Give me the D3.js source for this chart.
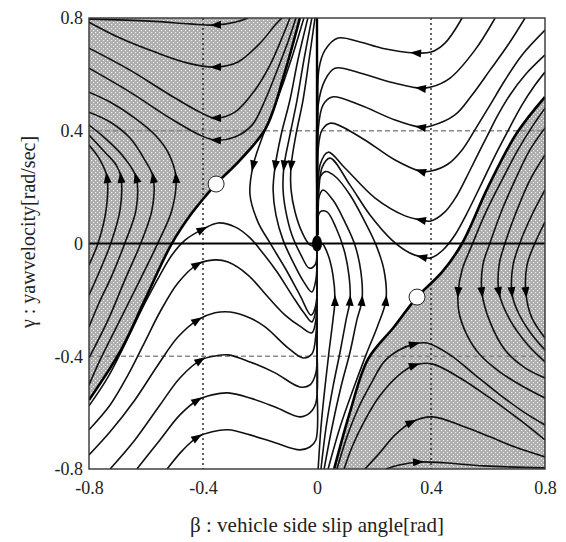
<!DOCTYPE html>
<html>
<head>
<meta charset="utf-8">
<script src="https://cdn.jsdelivr.net/npm/d3@7"></script>
<style>
body { margin: 0; background: #fff; }
svg text { font-family: "Liberation Serif", "DejaVu Serif", serif; fill: #222; }
</style>
</head>
<body>
<div id="chart"></div>
<script>

// axis ticks and guide lines
var xTicks = [-0.8, -0.4, 0, 0.4, 0.8];
var yTicks = [-0.8, -0.4, 0, 0.4, 0.8];
var guideX = [-0.4, 0.4];
var guideY = [-0.4, 0.4];

// saddle points (white circles) and the stable node at the origin
var saddles = [[-0.354, 0.211], [0.351, -0.19]];
var node = [0, 0];

// separatrices (boundary of the shaded regions)
var sepUpperLeft = [[-0.06,0.80],[-0.116,0.597],[-0.179,0.41],[-0.27,0.296],[-0.354,0.211],[-0.439,0.108],[-0.512,-0.005],[-0.604,-0.2],[-0.688,-0.378],[-0.80,-0.555]];
var sepLowerRight = [[0.06,-0.80],[0.116,-0.597],[0.179,-0.41],[0.27,-0.296],[0.351,-0.19],[0.44,-0.1],[0.509,0.0],[0.60,0.2],[0.70,0.39],[0.80,0.52]];

// upper-left shaded region, arcs over the saddle (flow to the left)
var ulTop = [
  [[-0.80,0.796],[-0.586,0.789],[-0.446,0.779],[-0.358,0.775],[-0.288,0.785],[-0.242,0.80]],
  [[-0.80,0.785],[-0.691,0.729],[-0.568,0.679],[-0.453,0.640],[-0.358,0.626],[-0.277,0.644],[-0.196,0.715],[-0.147,0.775],[-0.123,0.80]],
  [[-0.80,0.693],[-0.656,0.615],[-0.516,0.527],[-0.411,0.466],[-0.358,0.445],[-0.288,0.466],[-0.218,0.544],[-0.165,0.633],[-0.123,0.729],[-0.095,0.80]],
  [[-0.80,0.622],[-0.656,0.537],[-0.516,0.445],[-0.411,0.385],[-0.358,0.367],[-0.288,0.378],[-0.228,0.420],[-0.182,0.509],[-0.137,0.622],[-0.102,0.715],[-0.074,0.80]]
];
var ulTopArrow = [3, 4, 4, 4];

// upper-left shaded region, arcs left of the saddle (flow upward)
var ulSide = [
  [[-0.80,0.349],[-0.761,0.296],[-0.737,0.236],[-0.740,0.119],[-0.768,0.002],[-0.80,-0.076]],
  [[-0.80,0.385],[-0.744,0.324],[-0.705,0.279],[-0.688,0.236],[-0.691,0.119],[-0.723,0.002],[-0.761,-0.094],[-0.80,-0.183]],
  [[-0.80,0.420],[-0.744,0.374],[-0.684,0.314],[-0.635,0.236],[-0.635,0.119],[-0.674,0.002],[-0.719,-0.112],[-0.768,-0.218],[-0.80,-0.296]],
  [[-0.80,0.466],[-0.726,0.431],[-0.656,0.374],[-0.604,0.296],[-0.575,0.236],[-0.579,0.119],[-0.618,0.002],[-0.674,-0.129],[-0.733,-0.271],[-0.80,-0.406]],
  [[-0.80,0.537],[-0.726,0.502],[-0.639,0.445],[-0.568,0.385],[-0.523,0.324],[-0.495,0.236],[-0.509,0.119],[-0.558,0.002],[-0.621,-0.129],[-0.691,-0.271],[-0.761,-0.413],[-0.80,-0.502]]
];
var ulSideArrow = [2, 3, 3, 4, 5];

// white region, from the top down into the origin
var midDown = [
  [[-0.046,0.80],[-0.091,0.651],[-0.140,0.509],[-0.189,0.385],[-0.225,0.273],[-0.235,0.172],[-0.207,0.076],[-0.165,0.002],[-0.112,-0.087],[-0.060,-0.183],[-0.021,-0.254],[-0.004,-0.218],[0,-0.094]],
  [[-0.032,0.80],[-0.067,0.651],[-0.095,0.509],[-0.126,0.385],[-0.147,0.273],[-0.154,0.190],[-0.144,0.101],[-0.119,0.012],[-0.084,-0.066],[-0.046,-0.137],[-0.018,-0.172],[-0.004,-0.129],[0,-0.041]],
  [[-0.018,0.80],[-0.046,0.651],[-0.070,0.509],[-0.095,0.385],[-0.116,0.273],[-0.119,0.190],[-0.109,0.112],[-0.088,0.030],[-0.056,-0.041],[-0.028,-0.087],[-0.007,-0.076],[0,-0.023]],
  [[-0.007,0.80],[-0.028,0.651],[-0.049,0.509],[-0.074,0.385],[-0.091,0.273],[-0.091,0.190],[-0.077,0.112],[-0.053,0.041],[-0.025,-0.005],[-0.004,-0.009]]
];
var midDownArrow = [4, 4, 4, 4];

// white region, from the lower left rightward into the origin
var midRight = [
  [[-0.80,-0.576],[-0.733,-0.473],[-0.670,-0.349],[-0.607,-0.218],[-0.551,-0.112],[-0.509,-0.041],[-0.463,0.012],[-0.40,0.051],[-0.347,0.073],[-0.288,0.059],[-0.235,0.020],[-0.193,-0.030],[-0.140,-0.101],[-0.088,-0.183],[-0.046,-0.246],[-0.018,-0.278],[-0.004,-0.236],[0,-0.129],[0,-0.023]],
  [[-0.80,-0.661],[-0.726,-0.573],[-0.663,-0.466],[-0.604,-0.349],[-0.551,-0.243],[-0.488,-0.140],[-0.418,-0.073],[-0.358,-0.058],[-0.312,-0.066],[-0.242,-0.112],[-0.172,-0.190],[-0.112,-0.254],[-0.056,-0.296],[-0.018,-0.317],[-0.004,-0.271],[0,-0.165],[0,-0.023]],
  [[-0.80,-0.750],[-0.726,-0.668],[-0.639,-0.555],[-0.558,-0.431],[-0.488,-0.332],[-0.418,-0.271],[-0.358,-0.246],[-0.305,-0.243],[-0.235,-0.264],[-0.182,-0.296],[-0.102,-0.370],[-0.049,-0.406],[-0.018,-0.392],[-0.004,-0.324],[0,-0.200],[0,-0.041]],
  [[-0.726,-0.80],[-0.639,-0.697],[-0.551,-0.573],[-0.481,-0.477],[-0.407,-0.413],[-0.358,-0.399],[-0.312,-0.395],[-0.235,-0.420],[-0.147,-0.459],[-0.060,-0.509],[-0.025,-0.502],[-0.004,-0.459],[0,-0.307],[0,-0.058]],
  [[-0.632,-0.80],[-0.551,-0.697],[-0.481,-0.608],[-0.418,-0.555],[-0.368,-0.537],[-0.312,-0.530],[-0.235,-0.548],[-0.147,-0.580],[-0.060,-0.615],[-0.025,-0.601],[-0.004,-0.566],[0,-0.342],[0,-0.076]],
  [[-0.526,-0.80],[-0.470,-0.732],[-0.418,-0.686],[-0.368,-0.668],[-0.312,-0.661],[-0.235,-0.679],[-0.147,-0.707],[-0.060,-0.732],[-0.025,-0.722],[-0.004,-0.697],[0,-0.484],[0,-0.094]]
];
var midRightArrow = [7, 6, 5, 4, 3, 2];

// white region, from the upper right leftward into the origin (listed origin -> edge)
var urLeft = [
  [[0.003,0.03],[0.003,0.45],[0.007,0.62],[0.028,0.686],[0.074,0.729],[0.151,0.715],[0.228,0.693],[0.344,0.676],[0.40,0.679],[0.449,0.711],[0.509,0.80]],
  [[0.003,0.03],[0.004,0.49],[0.028,0.580],[0.063,0.622],[0.151,0.605],[0.256,0.573],[0.361,0.551],[0.40,0.555],[0.467,0.587],[0.554,0.686],[0.625,0.80]],
  [[0.003,0.03],[0.004,0.40],[0.021,0.491],[0.053,0.520],[0.151,0.491],[0.274,0.438],[0.361,0.413],[0.40,0.417],[0.484,0.456],[0.544,0.527],[0.607,0.615],[0.670,0.704],[0.730,0.80]],
  [[0.003,0.03],[0.004,0.332],[0.018,0.403],[0.049,0.427],[0.151,0.378],[0.274,0.296],[0.361,0.257],[0.40,0.257],[0.460,0.282],[0.509,0.332],[0.554,0.403],[0.607,0.491],[0.660,0.580],[0.719,0.668],[0.80,0.757]],
  [[0.003,0.03],[0.004,0.15],[0.011,0.28],[0.039,0.324],[0.098,0.268],[0.204,0.161],[0.309,0.098],[0.361,0.084],[0.40,0.080],[0.449,0.112],[0.488,0.165],[0.523,0.232],[0.558,0.303],[0.597,0.381],[0.635,0.456],[0.677,0.527],[0.730,0.598],[0.80,0.669]],
  [[0.003,0.03],[0.004,0.12],[0.018,0.27],[0.046,0.303],[0.116,0.207],[0.186,0.101],[0.263,0.012],[0.326,-0.034],[0.365,-0.047],[0.40,-0.051],[0.442,-0.023],[0.484,0.030],[0.523,0.101],[0.558,0.172],[0.597,0.254],[0.635,0.332],[0.677,0.413],[0.719,0.491],[0.765,0.562],[0.80,0.608]]
];
var urLeftArrow = [7, 6, 6, 6, 7, 8];

// white region, from the bottom up into the origin
var midUp = [
  [[0.004,-0.80],[0.014,-0.651],[0.028,-0.509],[0.042,-0.385],[0.056,-0.271],[0.063,-0.200],[0.056,-0.112],[0.039,-0.041],[0.018,0.0],[0.004,0.0]],
  [[0.014,-0.80],[0.032,-0.651],[0.056,-0.509],[0.081,-0.385],[0.102,-0.271],[0.116,-0.200],[0.112,-0.112],[0.095,-0.023],[0.067,0.055],[0.035,0.112],[0.011,0.112],[0,0.048]],
  [[0.025,-0.80],[0.053,-0.651],[0.084,-0.509],[0.116,-0.385],[0.140,-0.271],[0.158,-0.200],[0.154,-0.101],[0.133,-0.005],[0.098,0.076],[0.056,0.154],[0.021,0.190],[0.004,0.154],[0,0.048]],
  [[0.039,-0.80],[0.081,-0.651],[0.126,-0.520],[0.172,-0.395],[0.214,-0.289],[0.242,-0.200],[0.235,-0.094],[0.207,-0.005],[0.165,0.083],[0.116,0.172],[0.067,0.235],[0.030,0.255],[0.008,0.230],[0,0.15],[0,0.03]]
];
var midUpArrow = [5, 5, 5, 5];

// lower-right shaded region, arcs under the saddle (flow to the right)
var lrBottom = [
  [[0.242,-0.80],[0.288,-0.786],[0.358,-0.775],[0.446,-0.778],[0.586,-0.789],[0.80,-0.796]],
  [[0.168,-0.80],[0.214,-0.750],[0.274,-0.679],[0.333,-0.633],[0.404,-0.615],[0.519,-0.651],[0.607,-0.686],[0.695,-0.722],[0.80,-0.757]],
  [[0.095,-0.80],[0.123,-0.722],[0.165,-0.633],[0.218,-0.544],[0.288,-0.466],[0.344,-0.431],[0.404,-0.427],[0.502,-0.477],[0.607,-0.548],[0.712,-0.626],[0.80,-0.697]],
  [[0.070,-0.80],[0.105,-0.686],[0.147,-0.580],[0.193,-0.491],[0.235,-0.420],[0.288,-0.378],[0.344,-0.356],[0.386,-0.353],[0.467,-0.395],[0.554,-0.466],[0.642,-0.537],[0.730,-0.601],[0.80,-0.644]]
];
var lrBottomArrow = [2, 3, 5, 6];

// lower-right shaded region, arcs right of the saddle (flow downward, listed bottom -> top)
var lrSide = [
  [[0.80,-0.335],[0.754,-0.264],[0.733,-0.176],[0.737,-0.076],[0.765,0.002],[0.80,0.076]],
  [[0.80,-0.378],[0.747,-0.314],[0.702,-0.236],[0.684,-0.176],[0.688,-0.076],[0.712,0.002],[0.754,0.101],[0.80,0.190]],
  [[0.80,-0.420],[0.740,-0.360],[0.677,-0.271],[0.639,-0.176],[0.639,-0.076],[0.660,0.002],[0.695,0.101],[0.747,0.225],[0.80,0.314]],
  [[0.80,-0.477],[0.730,-0.441],[0.660,-0.378],[0.607,-0.278],[0.579,-0.176],[0.582,-0.076],[0.607,0.002],[0.649,0.119],[0.695,0.225],[0.747,0.332],[0.80,0.410]],
  [[0.80,-0.548],[0.726,-0.509],[0.642,-0.456],[0.572,-0.395],[0.526,-0.324],[0.498,-0.243],[0.495,-0.176],[0.509,-0.094],[0.544,-0.005],[0.593,0.112],[0.649,0.225],[0.705,0.332],[0.754,0.413],[0.80,0.480]]
];
var lrSideArrow = [2, 3, 3, 4, 6];


var margin = {top: 18, right: 21, bottom: 73, left: 89};
var width = 566 - margin.left - margin.right,
    height = 542 - margin.top - margin.bottom;

var svg = d3.select("#chart").append("svg")
    .attr("width", 566)
    .attr("height", 542);

var defs = svg.append("defs");

// stippled grey fill like the halftone of the print
var pat = defs.append("pattern")
    .attr("id", "stipple")
    .attr("patternUnits", "userSpaceOnUse")
    .attr("width", 4)
    .attr("height", 4);
pat.append("rect").attr("width", 4).attr("height", 4).attr("fill", "#ababab");
pat.append("rect").attr("x", 0).attr("y", 0).attr("width", 1.2).attr("height", 1.2).attr("fill", "#f2f2f2");
pat.append("rect").attr("x", 2).attr("y", 2).attr("width", 1.2).attr("height", 1.2).attr("fill", "#f2f2f2");

defs.append("clipPath").attr("id", "plot-clip")
    .append("rect").attr("width", width).attr("height", height);

var g = svg.append("g")
    .attr("transform", "translate(" + margin.left + "," + margin.top + ")");

var x = d3.scaleLinear().domain([-0.8, 0.8]).range([0, width]);
var y = d3.scaleLinear().domain([-0.8, 0.8]).range([height, 0]);

var line = d3.line()
    .curve(d3.curveCatmullRom.alpha(0.5))
    .x(function(d) { return x(d[0]); })
    .y(function(d) { return y(d[1]); });

var plot = g.append("g").attr("clip-path", "url(#plot-clip)");

// shaded regions: corner + separatrix
plot.append("path")
    .attr("d", line(sepUpperLeft) + "L" + x(-0.8) + "," + y(0.8) + "Z")
    .attr("fill", "url(#stipple)");
plot.append("path")
    .attr("d", line(sepLowerRight) + "L" + x(0.8) + "," + y(-0.8) + "Z")
    .attr("fill", "url(#stipple)");

// guide lines
plot.selectAll(".guide-x")
    .data(guideX)
    .enter().append("line")
    .attr("class", "guide-x")
    .attr("x1", function(d) { return x(d); })
    .attr("x2", function(d) { return x(d); })
    .attr("y1", 0)
    .attr("y2", height)
    .attr("stroke", "#222")
    .attr("stroke-width", 1.4)
    .attr("stroke-dasharray", "2,3");
plot.selectAll(".guide-y")
    .data(guideY)
    .enter().append("line")
    .attr("class", "guide-y")
    .attr("x1", 0)
    .attr("x2", width)
    .attr("y1", function(d) { return y(d); })
    .attr("y2", function(d) { return y(d); })
    .attr("stroke", "#8a8a8a")
    .attr("stroke-width", 1.6)
    .attr("stroke-dasharray", "5,3");

// trajectories
var groups = [
    {curves: ulTop, arrows: ulTopArrow, flow: -1},
    {curves: ulSide, arrows: ulSideArrow, flow: -1},
    {curves: midDown, arrows: midDownArrow, flow: 1},
    {curves: midRight, arrows: midRightArrow, flow: 1},
    {curves: urLeft, arrows: urLeftArrow, flow: -1},
    {curves: midUp, arrows: midUpArrow, flow: 1},
    {curves: lrBottom, arrows: lrBottomArrow, flow: 1},
    {curves: lrSide, arrows: lrSideArrow, flow: -1}
];

groups.forEach(function(grp) {
    plot.selectAll(null)
        .data(grp.curves)
        .enter().append("path")
        .attr("class", "trajectory")
        .attr("d", line)
        .attr("fill", "none")
        .attr("stroke", "#111")
        .attr("stroke-width", 1.6);
});

// zero axes
plot.append("line")
    .attr("x1", 0).attr("x2", width)
    .attr("y1", y(0)).attr("y2", y(0))
    .attr("stroke", "#000").attr("stroke-width", 2.2);
plot.append("line")
    .attr("x1", x(0)).attr("x2", x(0))
    .attr("y1", 0).attr("y2", y(0))
    .attr("stroke", "#000").attr("stroke-width", 2.4);

// separatrices
[sepUpperLeft, sepLowerRight].forEach(function(s) {
    plot.append("path")
        .attr("d", line(s))
        .attr("fill", "none")
        .attr("stroke", "#000")
        .attr("stroke-width", 2.6);
});

// arrow heads
groups.forEach(function(grp) {
    grp.curves.forEach(function(c, i) {
        var k = grp.arrows[i];
        var a = c[k - 1], b = c[k + 1];
        var dx = (x(b[0]) - x(a[0])) * grp.flow,
            dy = (y(b[1]) - y(a[1])) * grp.flow;
        var ang = Math.atan2(dy, dx) * 180 / Math.PI;
        plot.append("path")
            .attr("d", "M5,0L-6,-4L-6,4Z")
            .attr("fill", "#000")
            .attr("transform", "translate(" + x(c[k][0]) + "," + y(c[k][1]) + ") rotate(" + ang + ")");
    });
});

// stable node
plot.append("ellipse")
    .attr("cx", x(node[0]))
    .attr("cy", y(node[1]))
    .attr("rx", 5)
    .attr("ry", 8)
    .attr("fill", "#000");

// saddles
plot.selectAll(".saddle")
    .data(saddles)
    .enter().append("circle")
    .attr("class", "saddle")
    .attr("cx", function(d) { return x(d[0]); })
    .attr("cy", function(d) { return y(d[1]); })
    .attr("r", 8)
    .attr("fill", "#fff")
    .attr("stroke", "#222")
    .attr("stroke-width", 1);

// frame
g.append("rect")
    .attr("width", width)
    .attr("height", height)
    .attr("fill", "none")
    .attr("stroke", "#333")
    .attr("stroke-width", 1.4);

// tick labels
var fmt = function(d) { return d === 0 ? "0" : String(d); };

var xAxis = d3.axisBottom(x).tickValues(xTicks).tickSize(0).tickPadding(12).tickFormat(fmt);
var yAxis = d3.axisLeft(y).tickValues(yTicks).tickSize(0).tickPadding(6).tickFormat(fmt);

var xg = g.append("g").attr("transform", "translate(0," + height + ")").call(xAxis);
var yg = g.append("g").call(yAxis);
xg.select(".domain").remove();
yg.select(".domain").remove();
g.selectAll(".tick text")
    .style("font-family", "'Liberation Serif', serif")
    .style("font-size", "18px")
    .attr("fill", "#333");

// axis titles
svg.append("text")
    .attr("x", 317)
    .attr("y", 532)
    .attr("text-anchor", "middle")
    .style("font-size", "21px")
    .text("β : vehicle side slip angle[rad]");

svg.append("text")
    .attr("transform", "translate(35,232) rotate(-90)")
    .attr("text-anchor", "middle")
    .style("font-size", "20px")
    .text("γ : yawvelocity[rad/sec]");

</script>
</body>
</html>
